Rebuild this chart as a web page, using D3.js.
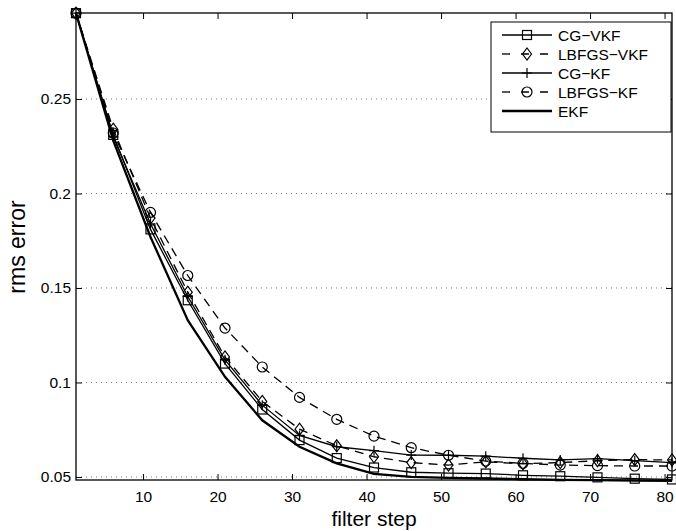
<!DOCTYPE html>
<html>
<head>
<meta charset="utf-8">
<script src="https://cdnjs.cloudflare.com/ajax/libs/d3/7.8.5/d3.min.js"></script>
<style>
  html, body { margin: 0; padding: 0; background: #fff; }
  text { font-family: "Liberation Sans", Arial, Helvetica, sans-serif; fill: #000; }
</style>
</head>
<body>
<svg id="chart" width="676" height="531"></svg>
<script>
// filter steps where values are sampled
var steps = [1, 6, 11, 16, 21, 26, 31, 36, 41, 46, 51, 56, 61, 66, 71, 76, 81];

var cgVkf    = [0.2954, 0.231, 0.181, 0.1435, 0.110, 0.0857, 0.0695, 0.0600, 0.0550, 0.0525, 0.0520, 0.0518, 0.0509, 0.0504, 0.0498, 0.0491, 0.0487];
var lbfgsVkf = [0.2954, 0.234, 0.187, 0.1478, 0.1135, 0.0900, 0.0753, 0.0665, 0.0607, 0.0576, 0.0563, 0.0580, 0.0570, 0.0576, 0.0586, 0.0592, 0.0590];
var cgKf     = [0.2954, 0.230, 0.184, 0.1455, 0.112, 0.0880, 0.0720, 0.0660, 0.0639, 0.0616, 0.0615, 0.0610, 0.0599, 0.0590, 0.0597, 0.0586, 0.0576];
var lbfgsKf  = [0.2954, 0.232, 0.190, 0.1566, 0.1288, 0.1082, 0.0921, 0.0805, 0.0716, 0.0655, 0.0615, 0.0584, 0.0572, 0.0563, 0.0560, 0.0558, 0.0558];
var ekf      = [0.2954, 0.228, 0.177, 0.133, 0.103, 0.0800, 0.0660, 0.0572, 0.0516, 0.0500, 0.0495, 0.0492, 0.0488, 0.0485, 0.0483, 0.0481, 0.0479];

var xTicks = [10, 20, 30, 40, 50, 60, 70, 80];
var yTicks = [0.05, 0.1, 0.15, 0.2, 0.25];

var series = [
  {name: "CG\u2212VKF",    values: cgVkf,    dash: null,  width: 1.3, marker: "square"},
  {name: "LBFGS\u2212VKF", values: lbfgsVkf, dash: "9,6", width: 1.3, marker: "diamond"},
  {name: "CG\u2212KF",     values: cgKf,     dash: null,  width: 1.3, marker: "plus"},
  {name: "LBFGS\u2212KF",  values: lbfgsKf,  dash: "9,6", width: 1.3, marker: "circle"},
  {name: "EKF",            values: ekf,      dash: null,  width: 2.3, marker: null}
];

var svg = d3.select("#chart");
var L = 76, R = 672, T = 13, B = 480;

var x = d3.scaleLinear().domain([1, 81]).range([L, R]);
var y = d3.scaleLinear().domain([0.0484, 0.2955]).range([B, T]);

// grid
svg.append("g").selectAll("line").data(yTicks).enter().append("line")
  .attr("x1", L).attr("x2", R)
  .attr("y1", function(d) { return y(d); }).attr("y2", function(d) { return y(d); })
  .attr("stroke", "#777").attr("stroke-width", 1).attr("stroke-dasharray", "1,4");

// axes: ticks point inward
var fmt = function(d) { return d3.format("")(+d.toFixed(2)); };
var gx = svg.append("g").attr("transform", "translate(0," + B + ")")
  .call(d3.axisBottom(x).tickValues(xTicks).tickSizeInner(-6).tickSizeOuter(0).tickPadding(11));
var gxt = svg.append("g").attr("transform", "translate(0," + T + ")")
  .call(d3.axisTop(x).tickValues(xTicks).tickSizeInner(-6).tickSizeOuter(0).tickFormat(""));
var gy = svg.append("g").attr("transform", "translate(" + L + ",0)")
  .call(d3.axisLeft(y).tickValues(yTicks).tickSizeInner(-6).tickSizeOuter(0).tickPadding(5).tickFormat(fmt));
var gyr = svg.append("g").attr("transform", "translate(" + R + ",0)")
  .call(d3.axisRight(y).tickValues(yTicks).tickSizeInner(-6).tickSizeOuter(0).tickFormat(""));

[gx, gxt, gy, gyr].forEach(function(g) {
  g.select(".domain").remove();
  g.selectAll(".tick line").attr("stroke", "#000");
  g.selectAll("text").style("font-size", "15.5px")
    .style("font-family", "'Liberation Sans', Arial, sans-serif").attr("fill", "#000");
});

// frame
svg.append("rect").attr("x", L).attr("y", T).attr("width", R - L).attr("height", B - T)
  .attr("fill", "none").attr("stroke", "#000").attr("stroke-width", 1.3);

function drawMarker(g, type, cx, cy) {
  if (type === "square") {
    g.append("rect").attr("x", cx - 4.5).attr("y", cy - 4.5).attr("width", 9).attr("height", 9)
      .attr("fill", "none").attr("stroke", "#000").attr("stroke-width", 1.2);
  } else if (type === "diamond") {
    g.append("path").attr("d", "M" + cx + "," + (cy - 6) + "L" + (cx + 4.5) + "," + cy + "L" + cx + "," + (cy + 6) + "L" + (cx - 4.5) + "," + cy + "Z")
      .attr("fill", "none").attr("stroke", "#000").attr("stroke-width", 1.2);
  } else if (type === "plus") {
    g.append("path").attr("d", "M" + (cx - 5) + "," + cy + "H" + (cx + 5) + "M" + cx + "," + (cy - 5) + "V" + (cy + 5))
      .attr("fill", "none").attr("stroke", "#000").attr("stroke-width", 1.2);
  } else if (type === "circle") {
    g.append("circle").attr("cx", cx).attr("cy", cy).attr("r", 5)
      .attr("fill", "none").attr("stroke", "#000").attr("stroke-width", 1.2);
  }
}

var line = d3.line().x(function(d, i) { return x(steps[i]); }).y(function(d) { return y(d); });

series.forEach(function(s) {
  var g = svg.append("g");
  g.append("path").attr("d", line(s.values))
    .attr("fill", "none").attr("stroke", "#000").attr("stroke-width", s.width)
    .attr("stroke-dasharray", s.dash);
  if (s.marker) {
    s.values.forEach(function(v, i) { drawMarker(g, s.marker, x(steps[i]), y(v)); });
  }
});

// legend
var lg = svg.append("g");
lg.append("rect").attr("x", 491).attr("y", 22).attr("width", 180).attr("height", 110)
  .attr("fill", "#fff").attr("stroke", "#000").attr("stroke-width", 1);
series.forEach(function(s, i) {
  var yy = 35 + i * 19;
  lg.append("line").attr("x1", 502).attr("x2", 552).attr("y1", yy).attr("y2", yy)
    .attr("stroke", "#000").attr("stroke-width", s.width)
    .attr("stroke-dasharray", s.dash ? "8,11" : null);
  if (s.marker) drawMarker(lg, s.marker, 527, yy);
  lg.append("text").attr("x", 558).attr("y", yy + 5.5).style("font-size", "15.5px").text(s.name);
});

// axis labels
svg.append("text").attr("x", (L + R) / 2).attr("y", 526).attr("text-anchor", "middle")
  .style("font-size", "21px").text("filter step");
svg.append("text").attr("transform", "translate(25,247) rotate(-90)").attr("text-anchor", "middle")
  .style("font-size", "23px").text("rms error");
</script>
</body>
</html>
